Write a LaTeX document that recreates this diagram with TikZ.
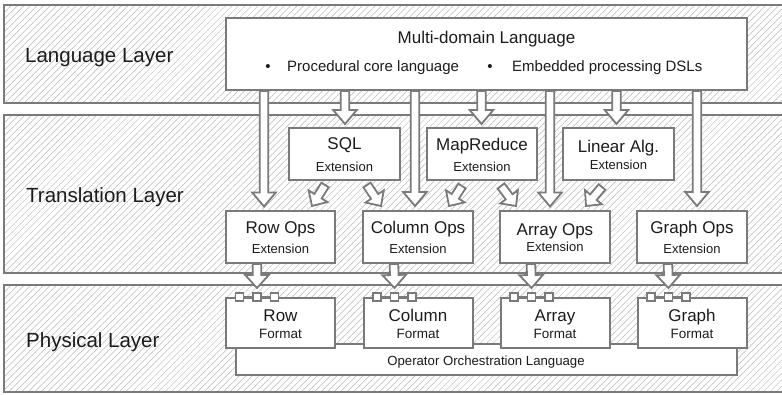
\documentclass[tikz,border=0pt]{standalone}
\usepackage{fontspec}
\setmainfont{Liberation Sans}
\usetikzlibrary{calc,patterns.meta}

\definecolor{bordergray}{RGB}{122,122,122}
\definecolor{hatchgray}{RGB}{185,185,185}
\definecolor{textcol}{RGB}{28,28,28}

% hollow block arrow from #1 (tail) to #2 (tip);
% #3 shaft half width, #4 head half width, #5 head length
\newcommand\blockarrow[5]{%
  \path (#1) coordinate (ba-tail) (#2) coordinate (ba-tip);
  \pgfpointdiff{\pgfpointanchor{ba-tail}{center}}{\pgfpointanchor{ba-tip}{center}}%
  \pgfgetlastxy{\badx}{\bady}%
  \pgfmathsetmacro\baang{atan2(\bady,\badx)}%
  \pgfmathsetmacro\balen{veclen(\badx,\bady)}%
  \begin{scope}[shift={(ba-tail)}, rotate=\baang, x=1pt, y=1pt]
    \draw[arrowbody] (0,-#3) -- (\balen-#5,-#3) -- (\balen-#5,-#4) -- (\balen,0)
      -- (\balen-#5,#4) -- (\balen-#5,#3) -- (0,#3) -- cycle;
  \end{scope}}

\tikzset{
  band/.style={draw=bordergray, line width=2pt,
    pattern={Lines[angle=45,distance=4.6pt,line width=0.5pt]}, pattern color=hatchgray},
  box/.style={draw=bordergray, line width=2pt, fill=white, inner sep=0pt},
  port/.style={draw=bordergray, line width=1.4pt, fill=white, minimum size=8pt, inner sep=0pt},
  arrowbody/.style={draw=bordergray, line width=1.8pt, fill=white, line join=miter},
  txt/.style={text=textcol, inner sep=0pt, anchor=base},
  layerlbl/.style={txt, anchor=base west, font=\fontsize{20.5}{24}\selectfont},
  big/.style={txt, font=\fontsize{17}{20}\selectfont},
  mid/.style={txt, font=\fontsize{15}{18}\selectfont},
  small/.style={txt, font=\fontsize{13}{15}\selectfont},
  fmt/.style={txt, font=\fontsize{13.5}{16}\selectfont},
}

\begin{document}
\begin{tikzpicture}[x=1pt, y=-1pt]
\useasboundingbox (0,0) rectangle (782,394);
\fill[white] (0,0) rectangle (782,394);
\clip (0,0) rectangle (782,394);

% three layer bands
\draw[band] (4,5) rectangle (800,103);
\draw[band] (4,115) rectangle (800,273);
\draw[band] (4,285) rectangle (800,392);

\node[layerlbl] (lbl-lang)  at (25,62)  {Language Layer};
\node[layerlbl] (lbl-trans) at (26,202) {Translation Layer};
\node[layerlbl] (lbl-phys)  at (26,347) {Physical Layer};

% language layer
\node[box, minimum width=521pt, minimum height=72pt] (lang) at (486.5,54) {};
\node[big] (lang-t) at (486.5,43) {Multi-domain Language};
\node[mid] (b1) at (268,71.5) {•};
\node[mid, anchor=base west] (b1-t) at (287,71.5) {Procedural core language};
\node[mid] (b2) at (490,71.5) {•};
\node[mid, anchor=base west] (b2-t) at (512,71.5) {Embedded processing DSLs};

% translation layer: front-end extensions
\node[box, minimum width=111pt, minimum height=52pt] (sql) at (344.5,154) {};
\node[big] (sql-t) at (344.5,149) {SQL};
\node[small] (sql-e) at (344.5,171) {Extension};

\node[box, minimum width=110pt, minimum height=52pt] (mr) at (482,154) {};
\node[big] (mr-t) at (482,150) {MapReduce};
\node[small] (mr-e) at (482,171) {Extension};

\node[box, minimum width=111pt, minimum height=52pt] (la) at (618.5,154) {};
\node[big] (la-t) at (618.5,152.5) {Linear Alg.};
\node[small] (la-e) at (618.5,169.5) {Extension};

% translation layer: operator extensions
\node[box, minimum width=109pt, minimum height=52pt] (rowops) at (280.5,237) {};
\node[big] (rowops-t) at (280.5,233) {Row Ops};
\node[small] (rowops-e) at (280.5,253.3) {Extension};

\node[box, minimum width=110pt, minimum height=52pt] (colops) at (418,237) {};
\node[big] (colops-t) at (418,233) {Column Ops};
\node[small] (colops-e) at (418,253.3) {Extension};

\node[box, minimum width=110pt, minimum height=52pt] (arrops) at (555,237) {};
\node[big] (arrops-t) at (555,235) {Array Ops};
\node[small] (arrops-e) at (555,251.7) {Extension};

\node[box, minimum width=110pt, minimum height=52pt] (grops) at (692,237) {};
\node[big] (grops-t) at (692,233) {Graph Ops};
\node[small] (grops-e) at (692,253.3) {Extension};

% physical layer
\node[box, minimum width=500.5pt, minimum height=30.5pt] (orch) at (486.25,359.25) {};
\node[fmt, font=\fontsize{13.2}{15}\selectfont] (orch-t) at (486,365) {Operator Orchestration Language};

\foreach \nm/\cx/\ttl in {rowfmt/280.5/Row, colfmt/418/Column, arrfmt/555/Array, grfmt/692/Graph}{
  \node[box, minimum width=109pt, minimum height=50pt] (\nm) at (\cx,323) {};
  \node[big] (\nm-t) at (\cx,321.7) {\ttl};
  \node[fmt] (\nm-f) at (\cx,338) {Format};
  \draw[bordergray, line width=1.4pt] ($(\nm.north west)+(14.5,0)$) -- ($(\nm.north west)+(49.5,0)$);
  \foreach \k/\off in {1/14.5, 2/32, 3/49.5}
    \node[port] (\nm-p\k) at ($(\nm.north west)+(\off,0)$) {};
}

% language layer -> translation layer
\blockarrow{$(lang.south west)+(39,0)$}{$(rowops.north west)+(39,-3.5)$}{4.3}{11.8}{14}
\blockarrow{$(lang.south west)+(190,0)$}{$(colops.north west)+(53,-4)$}{4.3}{11.8}{14}
\blockarrow{$(lang.south west)+(325,0)$}{$(arrops.north west)+(51,-3.5)$}{4.3}{11.8}{14}
\blockarrow{$(lang.south west)+(472,0)$}{$(grops.north west)+(61,-4)$}{4.3}{11.8}{14}
\blockarrow{$(lang.south west)+(120,0)$}{$(sql.north west)+(57,-3)$}{4.3}{11.8}{14}
\blockarrow{$(lang.south west)+(256.5,0)$}{$(mr.north west)+(55.5,-3)$}{4.3}{11.8}{14}
\blockarrow{$(lang.south west)+(391.5,0)$}{$(la.north west)+(54.5,-3)$}{4.3}{11.8}{14}

% extensions -> operator extensions
\blockarrow{$(sql.south west)+(37,4)$}{$(rowops.north west)+(87,-4)$}{4.3}{11}{11.5}
\blockarrow{$(sql.south west)+(79,4)$}{$(colops.north west)+(19,-4)$}{4.3}{11}{11.5}
\blockarrow{$(mr.south west)+(36,5)$}{$(colops.north west)+(87,-4)$}{4.3}{11}{11.5}
\blockarrow{$(mr.south west)+(75,5)$}{$(arrops.north west)+(17,-4)$}{4.3}{11}{11.5}
\blockarrow{$(la.south west)+(40,6)$}{$(arrops.north west)+(87,-4)$}{4.3}{11}{11.5}

% translation layer -> physical layer
\blockarrow{$(rowops.south west)+(32,0)$}{$(rowfmt.north west)+(32,-9)$}{4.3}{11.8}{13}
\blockarrow{$(colops.south west)+(32,0)$}{$(colfmt.north west)+(32,-9)$}{4.3}{11.8}{13}
\blockarrow{$(arrops.south west)+(32,0)$}{$(arrfmt.north west)+(32,-9)$}{4.3}{11.8}{13}
\blockarrow{$(grops.south west)+(32,0)$}{$(grfmt.north west)+(32,-9)$}{4.3}{11.8}{13}
\end{tikzpicture}
\end{document}
